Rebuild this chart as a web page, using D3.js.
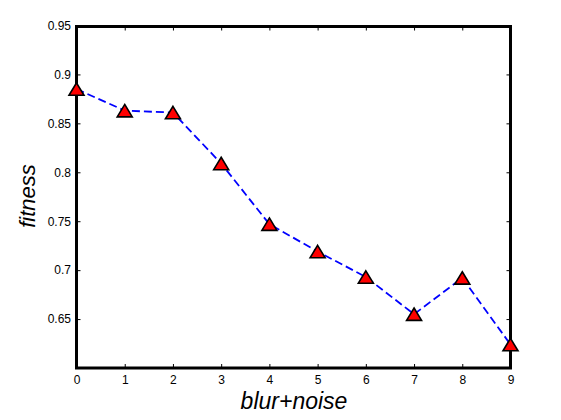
<!DOCTYPE html>
<html>
<head>
<meta charset="utf-8">
<script src="https://cdn.jsdelivr.net/npm/d3@7"></script>
<style>
  body { margin: 0; background: #fff; }
  text { font-family: "Liberation Sans", Arial, sans-serif; }
</style>
</head>
<body>
<div id="plot"></div>
<script>
// chart data
const steps = [0, 1, 2, 3, 4, 5, 6, 7, 8, 9];
const fitness = [0.885, 0.863, 0.861, 0.809, 0.747, 0.719, 0.693, 0.655, 0.692, 0.624];
const yTicks = [0.65, 0.7, 0.75, 0.8, 0.85, 0.9, 0.95];
const xTicks = [0, 1, 2, 3, 4, 5, 6, 7, 8, 9];

const width = 561, height = 420;
const plotLeft = 76.5, plotRight = 510.5, plotTop = 26.5, plotBottom = 368;

const svg = d3.select("#plot").append("svg")
    .attr("width", width)
    .attr("height", height)
    .style("display", "block");

svg.append("rect").attr("width", width).attr("height", height).attr("fill", "#fff");

const x = d3.scaleLinear().domain([0, 9]).range([plotLeft, plotRight]);
const y = d3.scaleLinear().domain([0.6, 0.95]).range([plotBottom, 25.5]);

const fmt = d => String(+d.toFixed(2));

// left axis with labels, ticks pointing in
const gLeft = svg.append("g")
    .attr("transform", `translate(${plotLeft},0)`)
    .call(d3.axisLeft(y).tickValues(yTicks).tickSize(-4).tickPadding(5.5).tickFormat(fmt));

// right axis, ticks only
const gRight = svg.append("g")
    .attr("transform", `translate(${plotRight},0)`)
    .call(d3.axisRight(y).tickValues(yTicks).tickSize(-4).tickFormat(""));

// bottom axis with labels
const gBottom = svg.append("g")
    .attr("transform", `translate(0,${plotBottom})`)
    .call(d3.axisBottom(x).tickValues(xTicks).tickSize(-4).tickPadding(7).tickFormat(d3.format("d")));

// top axis, ticks only
const gTop = svg.append("g")
    .attr("transform", `translate(0,${plotTop})`)
    .call(d3.axisTop(x).tickValues(xTicks).tickSize(-4).tickFormat(""));

[gLeft, gRight, gBottom, gTop].forEach(g => {
    g.select(".domain").remove();
    g.selectAll(".tick line").attr("stroke", "#000").attr("stroke-width", 1);
    g.selectAll(".tick text").attr("fill", "#000").style("font-size", "12px");
});

// data line
const line = d3.line()
    .x((d, i) => x(steps[i]))
    .y(d => y(d));

svg.append("path")
    .datum(fitness)
    .attr("fill", "none")
    .attr("stroke", "#0000ff")
    .attr("stroke-width", 1.8)
    .attr("stroke-dasharray", "8,4")
    .attr("d", line);

// frame
svg.append("rect")
    .attr("x", plotLeft)
    .attr("y", plotTop)
    .attr("width", plotRight - plotLeft)
    .attr("height", plotBottom - plotTop)
    .attr("fill", "none")
    .attr("stroke", "#000")
    .attr("stroke-width", 3);

// triangle markers, centred on the point like matplotlib '^'
const triangle = {
    draw(ctx, size) {
        const w = 7.5, h = 6.2;
        ctx.moveTo(0, -h);
        ctx.lineTo(w, h);
        ctx.lineTo(-w, h);
        ctx.closePath();
    }
};

svg.append("g")
    .selectAll("path")
    .data(fitness)
    .enter()
    .append("path")
    .attr("d", d3.symbol().type(triangle))
    .attr("transform", (d, i) => `translate(${x(steps[i])},${y(d)})`)
    .attr("fill", "#ff0000")
    .attr("stroke", "#000")
    .attr("stroke-width", 1.6)
    .attr("stroke-linejoin", "miter");

// axis titles
svg.append("text")
    .attr("x", (plotLeft + plotRight) / 2 + 0.5)
    .attr("y", 409)
    .attr("text-anchor", "middle")
    .style("font-size", "23px")
    .style("font-style", "italic")
    .text("blur+noise");

svg.append("text")
    .attr("transform", "translate(35,196) rotate(-90)")
    .attr("text-anchor", "middle")
    .style("font-size", "22px")
    .style("font-style", "italic")
    .text("fitness");
</script>
</body>
</html>
